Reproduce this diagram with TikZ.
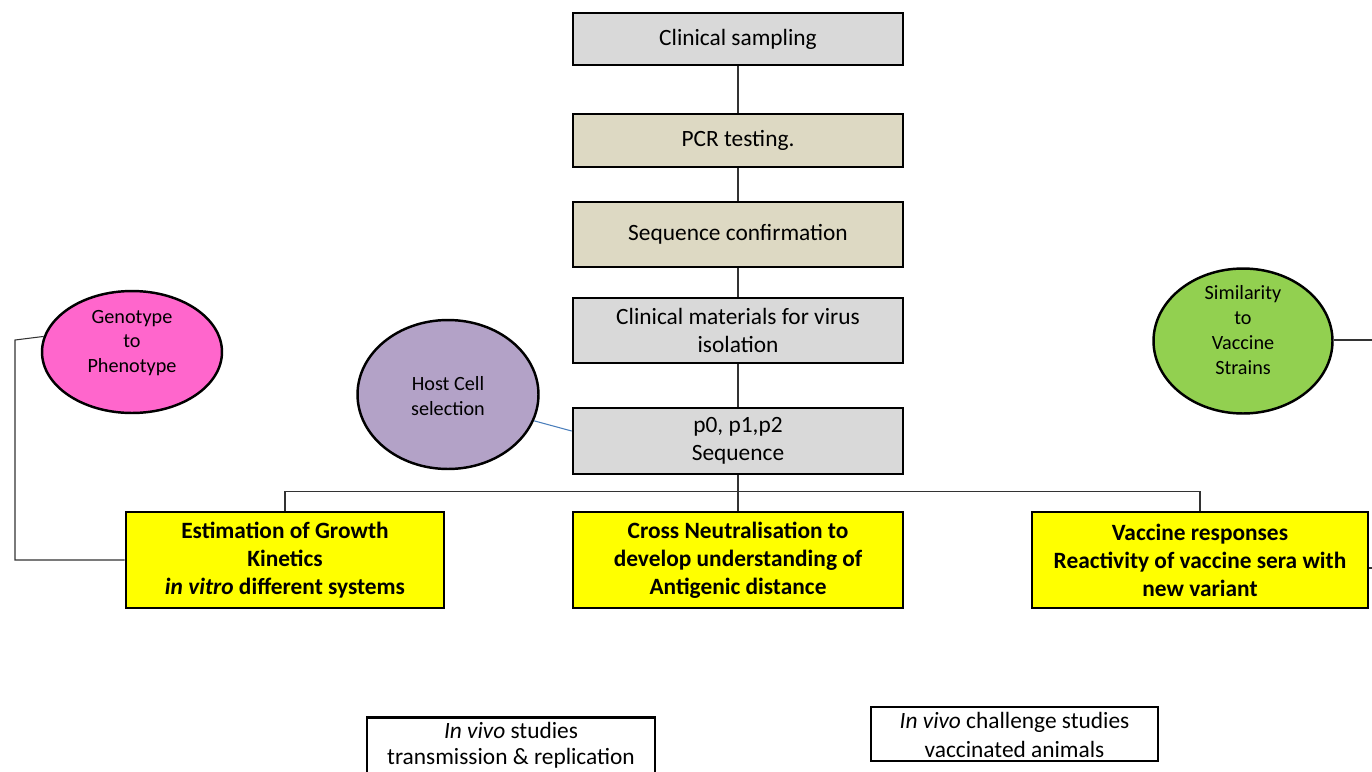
\documentclass[tikz,border=0pt]{standalone}
\usepackage{fontspec}
\setmainfont{Carlito}
\usetikzlibrary{shapes.geometric,calc}
\definecolor{boxgray}{HTML}{D9D9D9}
\definecolor{boxtan}{HTML}{DDD9C3}
\definecolor{boxyellow}{HTML}{FFFF00}
\definecolor{ovpink}{HTML}{FF66CC}
\definecolor{ovpurple}{HTML}{B3A2C7}
\definecolor{ovgreen}{HTML}{92D050}
\definecolor{linkblue}{HTML}{4A7EBB}
\begin{document}
\begin{tikzpicture}[x=0.02cm,y=-0.02cm,
  box/.style={draw=black,line width=1.6pt,rectangle,align=center,inner sep=2pt,
    font=\fontsize{13.3}{16}\selectfont},
  ybox/.style={box,fill=boxyellow,font=\fontsize{13.3}{16}\selectfont\bfseries},
  oval/.style={draw=black,line width=1.4pt,ellipse,inner sep=0pt},
  otext/.style={align=center,inner sep=0pt,font=\fontsize{11.5}{13.8}\selectfont},
  conn/.style={draw=black!80,line width=0.6pt},
  wbox/.style={draw=black,line width=1.3pt,fill=white,align=center,inner sep=2pt,
    font=\fontsize{13.3}{15}\selectfont},
  wtext/.style={align=center,inner sep=0pt,font=\fontsize{13.3}{15}\selectfont}]
\clip (0,0) rectangle (1372,771);
\fill[white] (0,0) rectangle (1372,771);

% central column
\node[box,fill=boxgray,minimum width=6.6cm,minimum height=1.04cm] (cs) at (738,39) {Clinical sampling};
\node[box,fill=boxtan,minimum width=6.6cm,minimum height=1.06cm] (pcr) at (738,140.5) {PCR testing.};
\node[box,fill=boxtan,minimum width=6.6cm,minimum height=1.3cm] (sc) at (738,234.5) {Sequence confirmation};
\node[box,fill=boxgray,minimum width=6.6cm,minimum height=1.3cm] (cm) at (738,330.5) {Clinical materials for virus\\isolation};
\node[box,fill=boxgray,minimum width=6.6cm,minimum height=1.32cm] (ps) at (738,441) {p0, p1,p2\\Sequence};

% yellow boxes
\node[ybox,minimum width=6.36cm,minimum height=1.92cm] (yl) at (285,560) {Estimation of Growth\\Kinetics\\\textit{in vitro} different systems};
\node[ybox,minimum width=6.6cm,minimum height=1.92cm] (ym) at (738,560) {Cross Neutralisation to\\develop understanding of\\Antigenic distance};
\node[ybox,minimum width=6.72cm,minimum height=1.92cm] (yr) at (1200,560) {Vaccine responses\\Reactivity of vaccine sera with\\new variant};

% ellipses
\node[oval,fill=ovpink,minimum width=3.6cm,minimum height=2.44cm] (gp) at (132,352) {};
\node[otext] (gpt) at (132,343) {Genotype\\to\\Phenotype};
\node[oval,fill=ovpurple,minimum width=3.62cm,minimum height=2.98cm] (hc) at (448,394.5) {};
\node[otext] (hct) at (448,396) {Host Cell\\selection};
\node[oval,fill=ovgreen,minimum width=3.58cm,minimum height=2.9cm] (sv) at (1243,341) {};
\node[otext,font=\fontsize{11.5}{14.2}\selectfont] (svt) at (1243,330) {Similarity\\to\\Vaccine\\Strains};

% bottom boxes
\node[wbox,minimum width=5.76cm,minimum height=1.3cm] (iv1) at (511,750) {};
\node[wtext] (iv1t) at (511,745) {\textit{In vivo} studies\\transmission \& replication};
\node[wbox,minimum width=5.74cm,minimum height=1.08cm] (iv2) at (1014.5,734) {};
\node[wtext,font=\fontsize{13.3}{16.5}\selectfont] (iv2t) at (1014.5,735) {\textit{In vivo} challenge studies\\vaccinated animals};

% connectors
\draw[conn] (cs.south) -- (pcr.north);
\draw[conn] (pcr.south) -- (sc.north);
\draw[conn] (sc.south) -- (cm.north);
\draw[conn] (cm.south) -- (ps.north);
\draw[conn] (ps.south) -- (ym.north);
\draw[conn] (yl.north) -- ++(0,-19) -| (yr.north);
\draw[conn] (gp.170) -- (15,340) |- (yl.west);
\draw[linkblue,line width=0.6pt] (hc.-17) -- ([yshift=0.2cm]ps.west);
\coordinate (svend) at (1372,340);
\coordinate (yrend) at (1372,568);
\draw[conn] (sv.east |- svend) -- (svend);
\draw[conn] (yr.east |- yrend) -- (yrend);
\end{tikzpicture}
\end{document}
